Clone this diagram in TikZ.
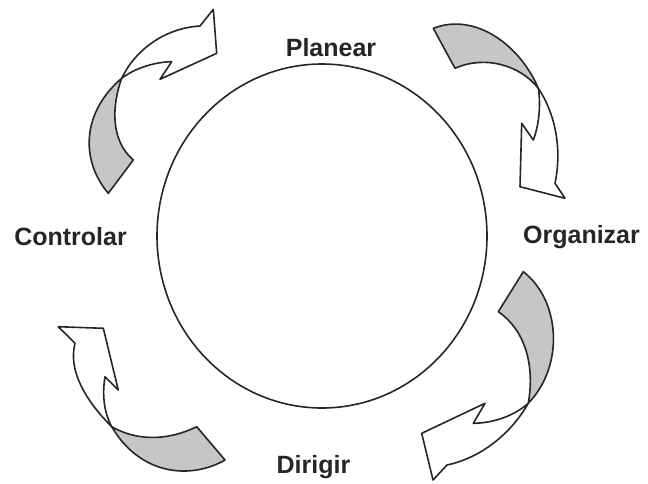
\documentclass[tikz,border=0pt]{standalone}
\usepackage{fontspec}
\setmainfont{Liberation Sans}
\begin{document}
\begin{tikzpicture}[x=1pt,y=-1pt,line join=round,
  rib/.style={draw=black!85,line width=1.6pt},
  back/.style={rib,fill=gray!45},
  front/.style={rib,fill=white},
  lbl/.style={font=\fontsize{25}{30}\selectfont\bfseries,text=black!85,inner sep=0pt,anchor=base}]
\useasboundingbox (0,0) rectangle (648,483);
% circle
\draw[rib] (322,236) ellipse [x radius=165,y radius=172];
% labels
\node[lbl] (planear) at (331,56) {Planear};
\node[lbl] (controlar) at (70.5,245) {Controlar};
\node[lbl] (organizar) at (581.5,243) {Organizar};
\node[lbl] (dirigir) at (313.5,473) {Dirigir};
% arrow 1 (top left)
\filldraw[back] (108.3,193.3) .. controls (80,160) and (82,112) .. (121.7,78.3)
  .. controls (112,105) and (110,140) .. (133.3,160) -- cycle;
\filldraw[front] (121.7,78.3) .. controls (135,50) and (165,28) .. (200,26)
  -- (213.3,9.3) -- (216.7,53.3) -- (160,79.3) -- (171.7,61.7)
  .. controls (155,62) and (135,68) .. (121.7,78.3) -- cycle;
% arrow 2 (top right)
\filldraw[back] (433.3,28.3) .. controls (475,12) and (520,45) .. (538.3,88.3)
  .. controls (520,65) and (485,55) .. (455,68.3) -- cycle;
\filldraw[front] (538.3,88.3) .. controls (556,115) and (562,150) .. (555,183.3)
  -- (565,198.3) -- (520,186.7) -- (521.7,123.3) -- (533.3,140)
  .. controls (539,125) and (541,105) .. (538.3,88.3) -- cycle;
% arrow 3 (bottom right)
\filldraw[back] (523.3,271.7) .. controls (560,300) and (565,365) .. (528.3,403.3)
  .. controls (535,365) and (525,330) .. (498.3,311.7) -- cycle;
\filldraw[front] (528.3,403.3) .. controls (510,435) and (480,458) .. (447,465)
  -- (433,480) -- (421.7,433.3) -- (485,403.3) -- (473.3,423.3)
  .. controls (495,423) and (515,415) .. (528.3,403.3) -- cycle;
% arrow 4 (bottom left)
\filldraw[back] (225,460) .. controls (190,480) and (140,475) .. (111.7,426.7)
  .. controls (135,440) and (165,442) .. (196.7,426.7) -- cycle;
\filldraw[front] (111.7,426.7) .. controls (85,400) and (68,370) .. (75,343.3)
  -- (58.3,326.7) -- (103.3,328.3) -- (118.3,390) -- (105,376.7)
  .. controls (102,395) and (104,412) .. (111.7,426.7) -- cycle;
\end{tikzpicture}
\end{document}
